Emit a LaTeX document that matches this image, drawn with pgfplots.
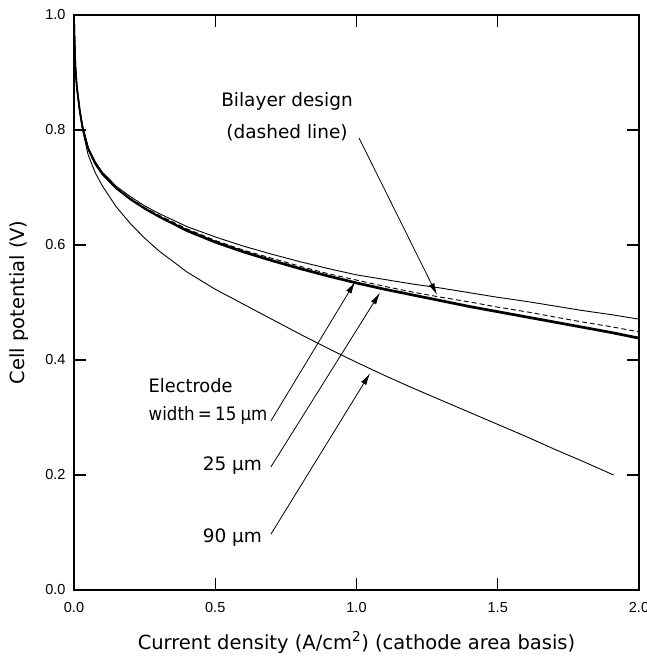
\documentclass[border=0pt]{standalone}
\usepackage{fontspec}
\setmainfont{DejaVu Sans}
\newfontfamily\tickfont{Liberation Sans}
\usepackage{pgfplots}
\pgfplotsset{compat=1.18}
\usetikzlibrary{arrows.meta,calc}

\pgfplotstableread{
x thin dash thickA thickB low
0     1.000 1.000 1.000 1.000 1.000
0.002 0.955 0.955 0.955 0.955 0.955
0.005 0.910 0.910 0.910 0.910 0.910
0.01  0.875 0.875 0.875 0.875 0.874
0.02  0.836 0.835 0.835 0.835 0.832
0.03  0.807 0.806 0.805 0.805 0.800
0.05  0.770 0.769 0.768 0.767 0.757
0.075 0.745 0.743 0.742 0.741 0.726
0.1   0.727 0.725 0.724 0.723 0.703
0.15  0.702 0.700 0.699 0.698 0.666
0.2   0.684 0.681 0.680 0.679 0.637
0.25  0.668 0.665 0.664 0.663 0.612
0.3   0.655 0.652 0.650 0.649 0.590
0.4   0.632 0.628 0.626 0.624 0.553
0.5   0.614 0.608 0.606 0.604 0.523
0.6   0.598 0.591 0.589 0.587 0.497
0.7   0.584 0.577 0.574 0.572 0.471
0.8   0.571 0.563 0.560 0.558 0.445
0.9   0.559 0.550 0.547 0.545 0.420
1.0   0.548 0.539 0.535 0.533 0.396
1.1   0.540 0.528 0.524 0.522 0.373
1.2   0.532 0.518 0.514 0.512 0.351
1.3   0.525 0.509 0.504 0.502 0.330
1.4   0.517 0.501 0.494 0.492 0.309
1.5   0.509 0.492 0.485 0.483 0.288
1.6   0.502 0.484 0.476 0.474 0.267
1.7   0.494 0.475 0.467 0.465 0.245
1.8   0.486 0.466 0.458 0.456 0.224
1.9   0.479 0.458 0.449 0.447 nan
1.91  nan   nan   nan   nan   0.200
2.0   0.471 0.449 0.439 0.437 nan
}\curves

\begin{document}
\begin{tikzpicture}
\begin{axis}[
  scale only axis, width=565bp, height=575bp,
  xmin=0, xmax=2, ymin=0, ymax=1,
  xtick={0,0.5,1,1.5,2}, ytick={0,0.2,0.4,0.6,0.8,1},
  xticklabels={0.0,0.5,1.0,1.5,2.0},
  yticklabels={0.0,0.2,0.4,0.6,0.8,1.0},
  tick align=inside, xtick pos=both, ytick pos=both,
  major tick length=12bp,
  axis line style={line width=1.4bp},
  every tick/.style={line width=1.2bp, black},
  ticklabel style={font=\tickfont\fontsize{14.5bp}{14.5bp}\selectfont},
  xticklabel style={yshift=-9bp},
  yticklabel style={xshift=-5bp},
  xlabel={Current density (A/cm\textsuperscript{2}) (cathode area basis)},
  ylabel={Cell potential (V)},
  label style={font=\fontsize{19.5bp}{22bp}\selectfont},
  xlabel style={yshift=-12bp},
  ylabel style={yshift=10bp},
  unbounded coords=discard,
]
\addplot[black, line width=0.9bp] table[x=x, y=low] {\curves};
\addplot[black, line width=0.9bp] table[x=x, y=thin] {\curves};
\addplot[black, line width=0.9bp, dash pattern=on 5bp off 3bp] table[x=x, y=dash] {\curves};
\addplot[black, line width=1.6bp] table[x=x, y=thickA] {\curves};
\addplot[black, line width=1.6bp] table[x=x, y=thickB] {\curves};

\coordinate (sw) at (rel axis cs:0,0);
\coordinate (ne) at (rel axis cs:1,1);

\begin{scope}[font=\fontsize{18.5bp}{22bp}\selectfont]
\node at (axis cs:0.754,0.849) {Bilayer design};
\node at (axis cs:0.754,0.795) {(dashed line)};
\node[anchor=west] at (axis cs:0.252,0.355) {\scalebox{0.96}[1]{Electrode}};
\node[anchor=west] at (axis cs:0.252,0.304) {\scalebox{0.9}[1]{width\hspace{0.2em}=\hspace{0.2em}15\hspace{0.25em}µm}};
\node[anchor=east] at (axis cs:0.678,0.217) {25 µm};
\node[anchor=east] at (axis cs:0.678,0.092) {90 µm};
\end{scope}

\begin{scope}[line width=0.8bp, -{Latex[length=12bp,width=6bp]}]
\draw (axis cs:0.697,0.294) -- (axis cs:0.995,0.536);
\draw (axis cs:0.697,0.214) -- (axis cs:1.083,0.517);
\draw (axis cs:0.697,0.097) -- (axis cs:1.048,0.377);
\draw (axis cs:1.009,0.786) -- (axis cs:1.285,0.513);
\end{scope}
\end{axis}
\pgfresetboundingbox
\useasboundingbox ($(sw)+(-74bp,-70bp)$) rectangle ($(ne)+(8bp,15bp)$);
\end{tikzpicture}
\end{document}
